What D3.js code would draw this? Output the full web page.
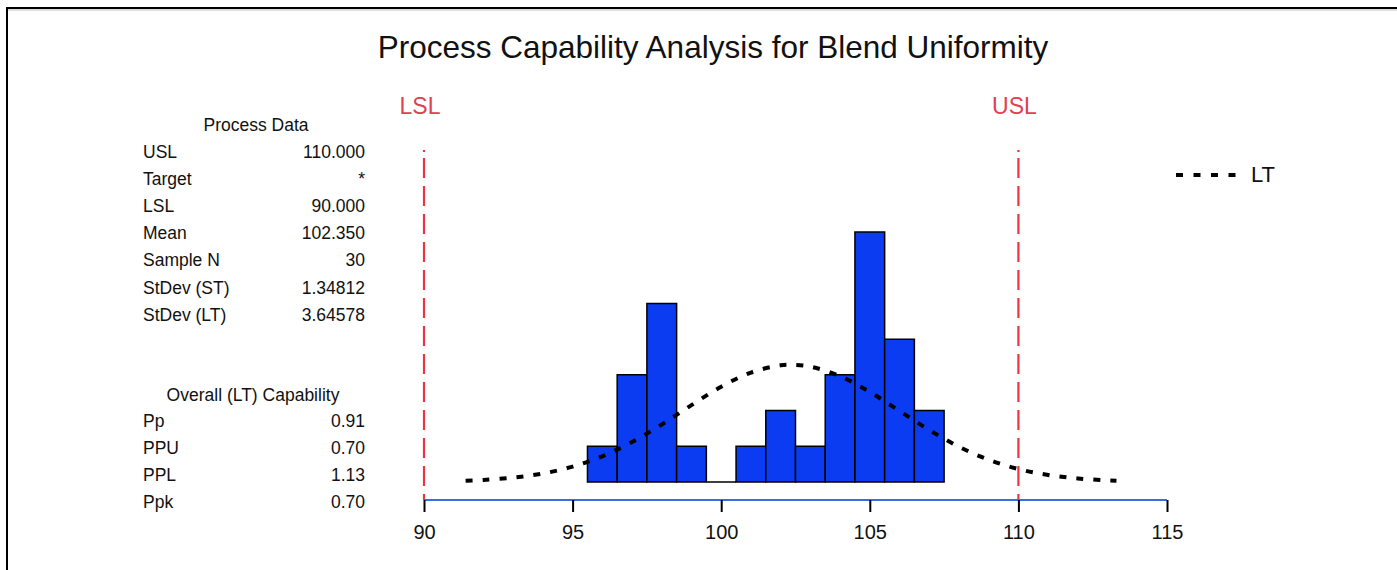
<!DOCTYPE html>
<html>
<head>
<meta charset="utf-8">
<script src="https://cdn.jsdelivr.net/npm/d3@7"></script>
<style>
  html, body { margin: 0; padding: 0; background: #fff; }
  svg { display: block; font-family: "Liberation Sans", Arial, Helvetica, sans-serif; }
</style>
</head>
<body>
<svg id="chart" width="1397" height="570"></svg>
<script>
// Histogram bins (centre of each unit-wide bin) and their counts
const binCenters = [96, 97, 98, 99, 100, 101, 102, 103, 104, 105, 106, 107];
const binCounts  = [1, 3, 5, 1, 0, 1, 2, 1, 3, 7, 4, 2];
const binWidth = 1;

// Overall (LT) fitted curve, expected count per bin
const curveX = [91.4, 92, 93, 94, 95, 96, 97, 98, 99, 100, 101, 102, 102.35, 103, 104, 105, 106, 107, 108, 109, 110, 111, 112, 113, 113.3];
const curveY = [0.036, 0.058, 0.122, 0.238, 0.430, 0.720, 1.118, 1.611, 2.153, 2.667, 3.065, 3.268, 3.283, 3.231, 2.964, 2.521, 1.989, 1.456, 0.988, 0.622, 0.363, 0.197, 0.099, 0.046, 0.036];

// Specification limits
const specNames  = ["LSL", "USL"];
const specValues = [90, 110];

// Axis ticks
const xTicks = [90, 95, 100, 105, 110, 115];

// Summary tables
const processLabels = ["USL", "Target", "LSL", "Mean", "Sample N", "StDev (ST)", "StDev (LT)"];
const processValues = ["110.000", "*", "90.000", "102.350", "30", "1.34812", "3.64578"];
const capLabels = ["Pp", "PPU", "PPL", "Ppk"];
const capValues = ["0.91", "0.70", "1.13", "0.70"];

const svg = d3.select("#chart");
const font = "'Liberation Sans', Arial, Helvetica, sans-serif";

// Frame
svg.append("line").attr("x1", 7).attr("x2", 1397).attr("y1", 8).attr("y2", 8)
  .attr("stroke", "#000").attr("stroke-width", 2);
svg.append("line").attr("x1", 8).attr("x2", 1397).attr("y1", 10).attr("y2", 10)
  .attr("stroke", "#bbb").attr("stroke-width", 1);
svg.append("line").attr("x1", 7).attr("x2", 7).attr("y1", 7).attr("y2", 570)
  .attr("stroke", "#000").attr("stroke-width", 2);

// Title
svg.append("text").attr("x", 713).attr("y", 58).attr("text-anchor", "middle")
  .attr("font-size", 31.5).attr("fill", "#111")
  .text("Process Capability Analysis for Blend Uniformity");

// Scales
const x = d3.scaleLinear().domain([90, 115]).range([424, 1167]);
const y = d3.scaleLinear().domain([0, 7]).range([482, 232]);
const axisY = 500;

// Histogram bars (drawn as paths so an empty bin still shows its base edge)
svg.append("g").selectAll("path").data(binCenters).join("path")
  .attr("d", (d, i) => {
    const x0 = x(d - binWidth / 2), x1 = x(d + binWidth / 2);
    const y0 = y(0), y1 = y(binCounts[i]);
    return `M${x0},${y0}V${y1}H${x1}V${y0}Z`;
  })
  .attr("fill", "#0b3cf2")
  .attr("stroke", "#000")
  .attr("stroke-width", 1.5);

// Spec limit lines and labels
specValues.forEach((v, i) => {
  svg.append("line")
    .attr("x1", x(v)).attr("x2", x(v))
    .attr("y1", 150).attr("y2", axisY)
    .attr("stroke", "#ee3344").attr("stroke-width", 2.2)
    .attr("stroke-dasharray", "2,6,20,8,20,8,20,8,20,8,20,8,20,8,20,8,20,8,20,8,20,8,20,8,20,8,20,8,20,8");
  svg.append("text").attr("x", x(v) - 4).attr("y", 113.5)
    .attr("text-anchor", "middle").attr("font-size", 23)
    .attr("fill", "#e04050").text(specNames[i]);
});

// Fitted curve
const line = d3.line().x((d) => x(d)).y((d, i) => y(curveY[i])).curve(d3.curveCatmullRom);
svg.append("path").datum(curveX)
  .attr("d", line)
  .attr("fill", "none")
  .attr("stroke", "#000")
  .attr("stroke-width", 4)
  .attr("stroke-dasharray", "7,10");

// X axis
const axis = d3.axisBottom(x).tickValues(xTicks).tickSize(12).tickPadding(13);
const gAxis = svg.append("g").attr("transform", `translate(0,${axisY})`).call(axis);
gAxis.select(".domain").attr("stroke", "#3a6ee0").attr("stroke-width", 2)
  .attr("d", `M${x(90)},0H${x(115)}`);
gAxis.selectAll(".tick line").attr("stroke", "#000").attr("stroke-width", 2);
gAxis.selectAll(".tick text").attr("font-size", 20).attr("font-family", font).attr("fill", "#111");

// Legend
svg.append("line").attr("x1", 1176).attr("x2", 1236).attr("y1", 175).attr("y2", 175)
  .attr("stroke", "#000").attr("stroke-width", 4).attr("stroke-dasharray", "7,10.5");
svg.append("text").attr("x", 1251).attr("y", 182).attr("font-size", 22)
  .attr("fill", "#111").text("LT");

// Process data table
const tbl = svg.append("g").attr("font-size", 17.5).attr("fill", "#111");
tbl.append("text").attr("x", 256).attr("y", 130.5).attr("text-anchor", "middle").text("Process Data");
processLabels.forEach((lab, i) => {
  const yy = 157.5 + i * 27.2;
  tbl.append("text").attr("x", 143).attr("y", yy).text(lab);
  tbl.append("text").attr("x", 365).attr("y", yy).attr("text-anchor", "end").text(processValues[i]);
});
tbl.append("text").attr("x", 253).attr("y", 400.5).attr("text-anchor", "middle").text("Overall (LT) Capability");
capLabels.forEach((lab, i) => {
  const yy = 426.5 + i * 27;
  tbl.append("text").attr("x", 143).attr("y", yy).text(lab);
  tbl.append("text").attr("x", 365).attr("y", yy).attr("text-anchor", "end").text(capValues[i]);
});
</script>
</body>
</html>
